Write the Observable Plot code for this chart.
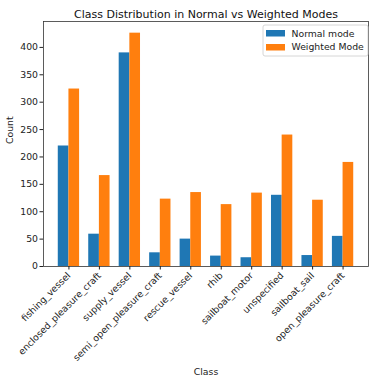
<!DOCTYPE html>
<html><head><meta charset="utf-8">
<script src="https://cdn.jsdelivr.net/npm/d3@7"></script>
<script src="https://cdn.jsdelivr.net/npm/@observablehq/plot@0.6"></script>
<style>
body{margin:0;background:#fff;}
#chart{position:relative;width:378px;height:383px;}
svg{font-family:"DejaVu Sans",sans-serif;}
</style></head>
<body><div id="chart"></div>
<script>
const classes = ["fishing_vessel","enclosed_pleasure_craft","supply_vessel","semi_open_pleasure_craft","rescue_vessel","rhib","sailboat_motor","unspecified","sailboat_sail","open_pleasure_craft"];
const normalCounts = [220, 59, 390, 25, 50, 19, 16, 130, 20, 55];
const weightedCounts = [324, 166, 426, 123, 135, 113, 134, 240, 121, 190];
const seriesNames = ["Normal mode", "Weighted Mode"];
const colors = ["#1f77b4", "#ff7f0e"];
const yTicks = [0,50,100,150,200,250,300,350,400];

const W = 0.35;
const data = [];
classes.forEach((c, i) => {
  data.push({cls: c, i, series: seriesNames[0], x1: i - W, x2: i, value: normalCounts[i]});
  data.push({cls: c, i, series: seriesNames[1], x1: i, x2: i + W, value: weightedCounts[i]});
});
const ymax = Math.max(...normalCounts, ...weightedCounts) * 1.05;

const chart = Plot.plot({
  width: 378, height: 383,
  marginLeft: 43, marginRight: 10, marginTop: 21, marginBottom: 117,
  style: {fontFamily: "DejaVu Sans, sans-serif", fontSize: "9px", color: "#222"},
  x: {type: "linear", domain: [-0.835, 9.835]},
  y: {domain: [0, ymax]},
  color: {domain: seriesNames, range: colors},
  marks: [
    Plot.rectY(data, {x1: "x1", x2: "x2", y: "value", fill: "series"}),
    Plot.frame({stroke: "#333", strokeWidth: 0.8}),
    Plot.axisY({ticks: yTicks, tickSize: 3.5, tickPadding: 2, label: null, fontSize: 9.3}),
    Plot.axisX({ticks: d3.range(classes.length), tickFormat: i => classes[i], tickRotate: -45, tickSize: 3.5, tickPadding: 4, label: null, fontSize: 9.3}),
    Plot.text(["Class Distribution in Normal vs Weighted Modes"], {frameAnchor: "top", dy: -11, fontSize: 11, fill: "#111"}),
    Plot.text(["Class"], {frameAnchor: "bottom", dy: 108, fontSize: 9.3, fill: "#222"}),
    Plot.text(["Count"], {frameAnchor: "left", dx: -33, rotate: -90, fontSize: 9.3, fill: "#222"})
  ]
});
document.getElementById("chart").appendChild(chart);

// legend box inside the axes, top right
const svg = d3.select(chart);
const lg = svg.append("g").attr("font-family", "DejaVu Sans, sans-serif").attr("font-size", 9.3).attr("text-anchor", "start");
lg.append("rect").attr("x", 263).attr("y", 25).attr("width", 105).attr("height", 31)
  .attr("rx", 2).attr("fill", "white").attr("fill-opacity", 0.8).attr("stroke", "#ccc").attr("stroke-width", 0.8);
seriesNames.forEach((s, k) => {
  lg.append("rect").attr("x", 266).attr("y", 30 + k * 14).attr("width", 19).attr("height", 6.5).attr("fill", colors[k]);
  lg.append("text").attr("x", 291.5).attr("y", 33.5 + k * 13.5).attr("dy", "0.35em").attr("fill", "#222").text(s);
});
</script></body></html>
